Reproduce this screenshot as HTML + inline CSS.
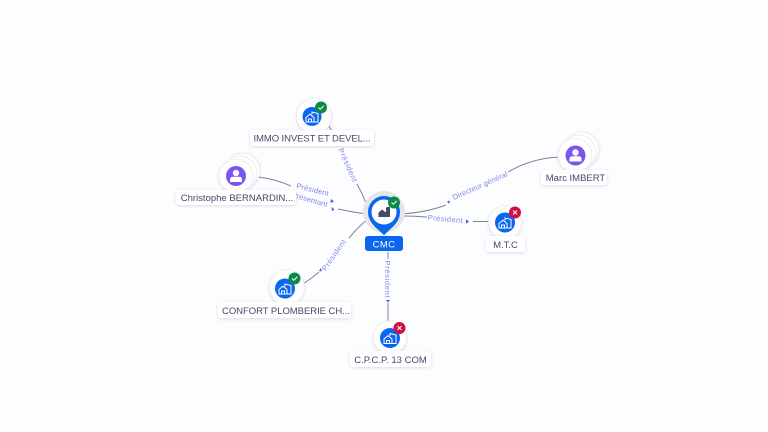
<!DOCTYPE html>
<html><head><meta charset="utf-8"><style>
html,body{margin:0;padding:0;background:#fcfdff;width:768px;height:432px;overflow:hidden}
svg{display:block}
text{font-family:"Liberation Sans",sans-serif}
.l{font-size:9.5px;fill:#45496e;text-anchor:middle}
.e{font-size:7.5px;fill:#8683ea;text-anchor:middle}
.c{fill:none;stroke:#7f8296;stroke-width:1}
.w{fill:#fff;stroke:#eceef2;stroke-width:1}
.lb{fill:#fff;filter:url(#s)}
</style></head><body>
<svg width="768" height="432" viewBox="0 0 768 432" xmlns="http://www.w3.org/2000/svg">
<defs>
<filter id="s" x="-20%" y="-50%" width="140%" height="200%"><feDropShadow dx="0" dy="1" stdDeviation="1.500" flood-color="#5a6080" flood-opacity=".22"/></filter>
<filter id="n" x="-30%" y="-30%" width="160%" height="160%"><feDropShadow dx="0" dy="1" stdDeviation="1.200" flood-color="#5a6080" flood-opacity=".2"/></filter>
<g id="b"><path d="M-6 5V0.500L-2-2.800 2 0.500V5ZM-3.500 5V2H-.500V5M0-2.500V-5L6-3.500V5H2" fill="none" stroke="#fff" stroke-width="1"/></g>
<g id="p"><circle cy="-3" r="3.200" fill="#fff"/><path d="M-6 6V3.500Q-6 .800-3 .800H3Q6 .800 6 3.500V6Z" fill="#fff"/></g>
<g id="ok"><circle r="6" fill="#0c8a4a"/><path d="M-2.500 0-.700 1.800 2.600-1.600" fill="none" stroke="#fff" stroke-width="1"/></g>
<g id="ko"><circle r="6" fill="#d10f45"/><path d="M-2-2 2 2M2-2-2 2" fill="none" stroke="#fff" stroke-width="1"/></g>
</defs>

<path class="c" d="M328 125Q331 129 334 134M357 184Q362 193 366 203"/>
<path class="c" d="M258 177Q275 179 291 186"/>
<path class="c" d="M338 209Q352 212 366 214"/>
<path class="c" d="M303 284Q312 278 319 272M349 238Q358 227 368 219"/>
<path class="c" d="M388 252V259M388 303V322"/>
<path class="c" d="M402 214Q428 212 446 205M508 172Q532 158 560 157"/>
<path class="c" d="M402 216Q415 216 427 217M473 221.500H489"/>

<text class="e" transform="translate(345.500 166) rotate(66)" textLength="36">Président</text>
<text class="e" transform="translate(312 192) rotate(14)" textLength="33">Président</text>
<text class="e" transform="translate(309 202) rotate(16)" textLength="37">Présentant</text>
<text class="e" transform="translate(336 256.500) rotate(-55)" textLength="36">Président</text>
<text class="e" transform="translate(385 279) rotate(90)" textLength="37">Président</text>
<text class="e" transform="translate(481 188) rotate(-24)" textLength="59">Directeur général</text>
<text class="e" transform="translate(445 221.500) rotate(5)" textLength="35">Président</text>

<path d="M331 199l3 2.500-3.500 1.500Z" fill="#5a55d8"/>
<path d="M332 211l-.5-4 3 2.500Z" fill="#5a55d8"/>
<path d="M319 271l2-3 .8 3.200Z" fill="#2563d8"/>
<path d="M386 300h4l-2 2.500Z" fill="#2563d8"/>
<path d="M450 200.500l-1 3.500-2-2.500Z" fill="#5a55d8"/>
<path d="M466 219.500l3 2-3 2Z" fill="#2563d8"/>

<!-- Center -->
<circle cx="384" cy="212" r="21" fill="#e4e6e9"/>
<path d="M384 235.500 C380 230 368 224 368 212 A16 16 0 1 1 400 212 C400 224 388 230 384 235.500Z" fill="#0a66f0"/>
<circle cx="384" cy="212" r="12.500" fill="#fff"/>
<path d="M378.500 217V212.500L382 209.500 386 212.500V217ZM386 209.500V207.500L390 206.500V217H386" fill="#454b63"/>
<use href="#ok" x="394" y="202.500"/>
<rect x="365" y="236" width="38" height="15" rx="3" fill="#0a66f0"/>
<text x="384" y="247.500" font-size="9.500" fill="#fff" text-anchor="middle" letter-spacing=".4">CMC</text>

<!-- IMMO -->
<g filter="url(#n)"><circle class="w" cx="314" cy="116" r="17.500"/></g>
<circle cx="312" cy="116.500" r="9.500" fill="#0a66f0"/><use href="#b" x="312" y="117"/><use href="#ok" x="321" y="107.500"/>
<rect class="lb" x="250" y="130" width="124" height="16" rx="3"/>
<text class="l" x="312" y="141.500" textLength="117">IMMO INVEST ET DEVEL...</text>

<!-- Christophe -->
<g filter="url(#n)"><circle class="w" cx="243" cy="170" r="17"/><circle class="w" cx="240" cy="173" r="17"/><circle class="w" cx="236" cy="176" r="17"/></g>
<circle cx="236" cy="176" r="10" fill="#7b55f0"/><use href="#p" x="236" y="176"/>
<rect class="lb" x="176" y="190" width="120" height="15" rx="3"/>
<text class="l" x="237" y="201">Christophe BERNARDIN...</text>

<!-- Marc -->
<g filter="url(#n)"><circle class="w" cx="582" cy="149" r="17"/><circle class="w" cx="579" cy="152" r="17"/><circle class="w" cx="575" cy="155.500" r="17"/></g>
<circle cx="575.500" cy="155.500" r="10" fill="#7b55f0"/><use href="#p" x="575.500" y="155.500"/>
<rect class="lb" x="541" y="170" width="66" height="15" rx="3"/>
<text class="l" x="575.500" y="181">Marc IMBERT</text>

<!-- MTC -->
<g filter="url(#n)"><circle class="w" cx="505" cy="222.500" r="16.500"/></g>
<circle cx="505" cy="222.500" r="10" fill="#0a66f0"/><use href="#b" x="505" y="223"/><use href="#ko" x="515" y="212.500"/>
<rect class="lb" x="486" y="236" width="39" height="16" rx="3"/>
<text class="l" x="505.500" y="248">M.T.C</text>

<!-- Confort -->
<g filter="url(#n)"><circle class="w" cx="287" cy="287.500" r="17.500"/></g>
<circle cx="285" cy="288.500" r="10" fill="#0a66f0"/><use href="#b" x="285" y="289"/><use href="#ok" x="294.500" y="278.500"/>
<rect class="lb" x="218" y="302" width="133" height="16" rx="3"/>
<text class="l" x="286" y="314" textLength="128">CONFORT PLOMBERIE CH...</text>

<!-- CPCP -->
<g filter="url(#n)"><circle class="w" cx="390" cy="337.500" r="16.500"/></g>
<circle cx="390" cy="338" r="10" fill="#0a66f0"/><use href="#b" x="390" y="338.500"/><use href="#ko" x="399.500" y="328"/>
<rect class="lb" x="350" y="351" width="81" height="16" rx="3"/>
<text class="l" x="390.500" y="363">C.P.C.P. 13 COM</text>
</svg>
</body></html>
